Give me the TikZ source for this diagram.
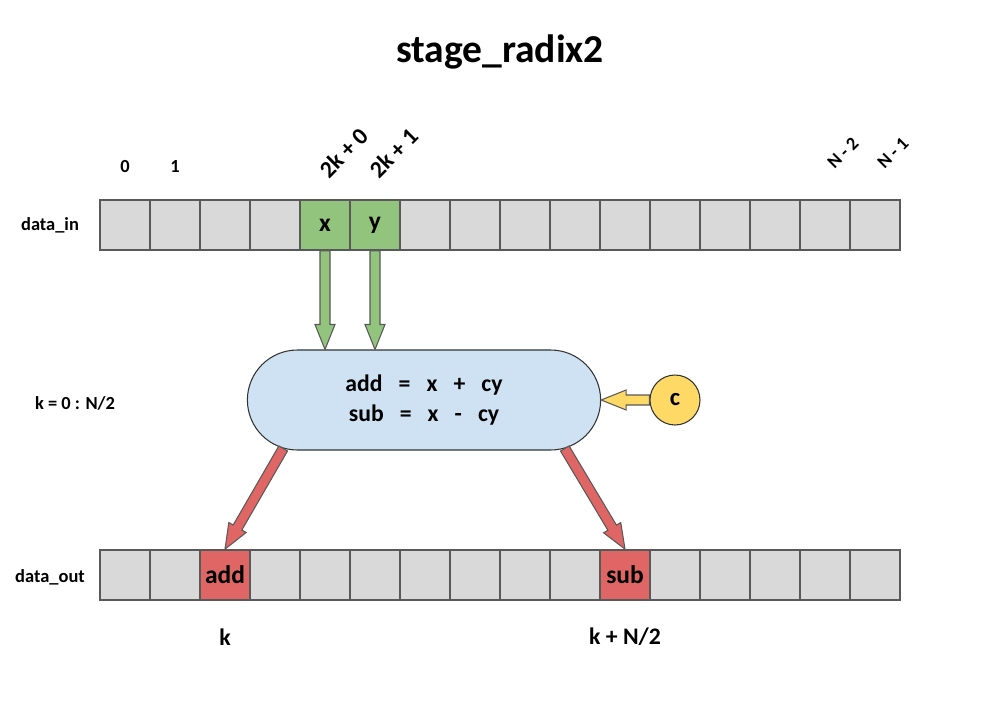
\documentclass[tikz,border=0pt]{standalone}
\usepackage{fontspec}
\setmainfont{Carlito}
\usepackage{tikz}
\usetikzlibrary{calc,positioning,shapes.misc}
\definecolor{cellgray}{HTML}{D9D9D9}
\definecolor{cellrule}{HTML}{595959}
\definecolor{ingreen}{HTML}{93C47D}
\definecolor{outred}{HTML}{E06666}
\definecolor{opblue}{HTML}{CFE2F3}
\definecolor{twyellow}{HTML}{FFD966}

% block arrow from #1 to #2, filled with #3
\newcommand{\blockarrow}[3]{%
  \coordinate (bahead) at ($(#2)!0.5cm!(#1)$);
  \filldraw[fill=#3,draw=cellrule,line width=0.6pt]
    ($(#1)!0.1cm!90:(#2)$) -- ($(bahead)!0.1cm!90:(#2)$) -- ($(bahead)!0.2cm!90:(#2)$)
    -- (#2) -- ($(bahead)!0.2cm!-90:(#2)$) -- ($(bahead)!0.1cm!-90:(#2)$)
    -- ($(#1)!0.1cm!-90:(#2)$) -- cycle;}

\begin{document}
\begin{tikzpicture}[x=0.02cm,y=-0.02cm,
  cell/.style={draw=cellrule,fill=cellgray,minimum size=1cm,inner sep=0pt,line width=1pt,
               font=\fontsize{14.5}{16}\selectfont\bfseries},
  op/.style={rounded rectangle,draw=black!80,fill=opblue,minimum width=7.3cm,minimum height=2cm,
             align=center,line width=0.6pt,font=\fontsize{13.5}{17.5}\selectfont\bfseries},
  tw/.style={circle,draw=black!80,fill=twyellow,minimum size=1cm,inner sep=0pt,line width=0.6pt,
             font=\fontsize{14}{16}\selectfont\bfseries},
  lbl/.style={font=\fontsize{10.5}{12}\selectfont\bfseries},
  idx/.style={font=\fontsize{13.5}{15}\selectfont\bfseries},
  nidx/.style={font=\fontsize{10.5}{12}\selectfont\bfseries,rotate=45},
  hd/.style={font=\fontsize{22.5}{26}\selectfont\bfseries}]

\useasboundingbox (0,0) rectangle (1000,700);

\node[hd] (title) at (500,52) {stage\_radix2};

% ---------------- the two arrays ----------------
\foreach \i in {0,...,15} {
  \node[cell] (in\i) at (125+50*\i,225) {};
  \node[cell] (out\i) at (125+50*\i,575) {};
}
\node[cell,fill=ingreen] (x) at (in4) {x};
\node[cell,fill=ingreen] (y) at (in5) {y};
\node[cell,fill=outred] (add) at (out2) {add};
\node[cell,fill=outred] (sub) at (out10) {sub};

\node[lbl] (datain) at (50,225) {data\_in};
\node[lbl] (dataout) at (50,577) {data\_out};
\node[lbl] (loop) at (75,403) {k = 0 : N/2};

% ---------------- index labels ----------------
\node[lbl] (i0) at (125,167) {0};
\node[lbl] (i1) at (175,167) {1};
\node[idx,rotate=45] (i4) at (344,153) {2k + 0};
\node[idx,rotate=45] (i5) at (394,153) {2k + 1};
\node[nidx] (i14) at (843,153) {N - 2};
\node[nidx] (i15) at (893,153) {N - 1};
\node[idx] (k) at (225,637) {k};
\node[idx] (kn) at (625,637) {k + N/2};

% ---------------- butterfly ----------------
\node[op] (op) at (424,400) {add~~~=~~~x~~~+~~~cy\\sub~~~=~~~x~~~-~~~cy};
\node[tw] (c) at (675,400) {c};

\coordinate (xin) at (x.south |- op.north);
\coordinate (yin) at (y.south |- op.north);
\blockarrow{x.south}{xin}{ingreen}
\blockarrow{y.south}{yin}{ingreen}
\blockarrow{c.west}{op.east}{twyellow}
\blockarrow{op.199}{add.north}{outred}
\blockarrow{op.341}{sub.north}{outred}

\end{tikzpicture}
\end{document}
